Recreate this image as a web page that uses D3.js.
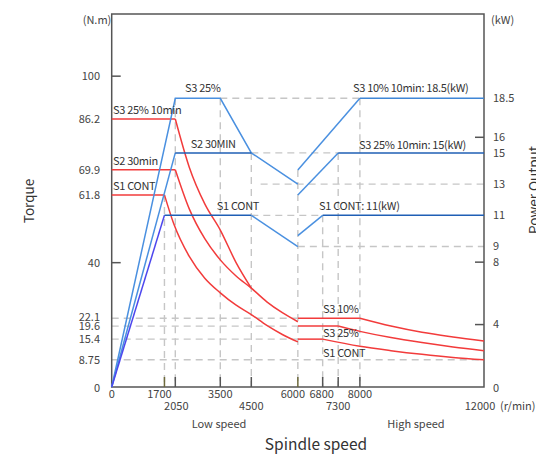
<!DOCTYPE html>
<html>
<head>
<meta charset="utf-8">
<script src="https://cdn.jsdelivr.net/npm/d3@7"></script>
<style>
  body { margin: 0; background: #fff; }
  svg { font-family: "Noto Sans CJK SC", "Noto Sans", sans-serif; }
  .tick-label { font-size: 11px; fill: #444; }
  .note { font-size: 11px; fill: #333; letter-spacing: -0.3px; }
  .guide { stroke: #c6c6c6; stroke-width: 1.4; stroke-dasharray: 7,5; fill: none; }
</style>
</head>
<body>
<svg width="536" height="454"></svg>
<script>
"use strict";

// tick labels
const speedTicks = [0, 1700, 2050, 3500, 4500, 6000, 6800, 7300, 8000, 12000];
const speedTicksLow = [2050, 4500, 7300, 12000];
const torqueTicks = [0, 8.75, 15.4, 19.6, 22.1, 40, 61.8, 69.9, 86.2, 100];
const powerTicks = [0, 4, 8, 9, 11, 13, 15, 16, 18.5];
const torqueMarks = [40, 100];
const powerMarks = [4, 8, 16];

// power curves [rpm, kW]
const powerS3Low = [[0, 0], [2050, 18.5], [3500, 18.5], [4500, 15], [6000, 13]];
const powerS2Low = [[0, 0], [2050, 15], [4500, 15]];
const powerS1Low = [[0, 0], [1700, 11], [4500, 11], [6000, 9]];
const powerS3High = [[6000, 13.9], [8000, 18.5], [12000, 18.5]];
const powerS25High = [[6000, 12.3], [7300, 15], [12000, 15]];
const powerS1High = [[6000, 9.7], [6800, 11], [12000, 11]];

// torque curves [rpm, N.m] - flat part, then falling part
const torqueS3Flat = [[0, 86.2], [2050, 86.2]];
const torqueS3Drop = [[2050, 86.2], [2500, 70.7], [3000, 58.9], [3500, 50.5], [4000, 40.2], [4500, 31.8]];
const torqueS2Flat = [[0, 69.9], [2050, 69.9]];
const torqueS2Drop = [[2050, 69.9], [2500, 57.3], [3000, 47.7], [3500, 40.9], [4000, 35.8], [4500, 31.8], [5000, 27.4], [5500, 23.9], [6000, 21]];
const torqueS1Flat = [[0, 61.8], [1700, 61.8]];
const torqueS1Drop = [[1700, 61.8], [2000, 52.5], [2500, 42], [3000, 35], [3500, 30.3], [4000, 26.4], [4500, 23.3], [5000, 19.8], [5500, 16.9], [6000, 14.5]];
const torqueS10Flat = [[6000, 22.1], [8000, 22.1]];
const torqueS10Drop = [[8000, 22.1], [9000, 19.6], [10000, 17.6], [11000, 16.1], [12000, 14.8]];
const torqueS25Flat = [[6000, 19.6], [7300, 19.6]];
const torqueS25Drop = [[7300, 19.6], [8000, 17.9], [9000, 15.9], [10000, 14.3], [11000, 12.9], [12000, 11.7]];
const torqueS1HFlat = [[6000, 15.4], [6800, 15.4]];
const torqueS1HDrop = [[6800, 15.4], [8000, 13.1], [9000, 11.7], [10000, 10.5], [11000, 9.5], [12000, 8.75]];

const svg = d3.select("svg");
const plotLeft = 111.7, plotRight = 484, plotTop = 14, plotBottom = 387;

const x = d3.scaleLinear().domain([0, 12000]).range([plotLeft, plotRight]);
const yT = d3.scaleLinear().domain([0, 120]).range([plotBottom, plotTop]);
const yP = d3.scaleLinear().domain([0, 23.9]).range([plotBottom, plotTop]);

// dashed guides
const hGuides = [
    [yP, 18.5, 3500, 8000], [yP, 15, 4500, 7300], [yP, 13, 4800, 12000],
    [yP, 11, 4500, 6800], [yP, 9, 6000, 12000],
    [yT, 22.1, 0, 6000], [yT, 19.6, 0, 6000], [yT, 15.4, 0, 6000], [yT, 8.75, 0, 12000]
];
const vGuides = [
    [1700, yT, 61.8], [2050, yP, 18.5], [3500, yP, 18.5], [4500, yP, 15],
    [6000, yP, 13.9], [6800, yP, 11], [7300, yP, 15], [8000, yP, 18.5]
];

svg.selectAll(".hg")
    .data(hGuides)
    .enter().append("line")
    .attr("class", "guide")
    .attr("x1", d => x(d[2]))
    .attr("x2", d => x(d[3]))
    .attr("y1", d => d[0](d[1]))
    .attr("y2", d => d[0](d[1]));

svg.selectAll(".vg")
    .data(vGuides)
    .enter().append("line")
    .attr("class", "guide")
    .attr("x1", d => x(d[0]))
    .attr("x2", d => x(d[0]))
    .attr("y1", d => d[1](d[2]))
    .attr("y2", plotBottom);

// frame
svg.append("rect")
    .attr("x", plotLeft).attr("y", plotTop)
    .attr("width", plotRight - plotLeft).attr("height", plotBottom - plotTop)
    .attr("fill", "none").attr("stroke", "#555").attr("stroke-width", 1.5);

// inner tick marks
svg.selectAll(".xm")
    .data(speedTicks.filter(d => d > 0 && d < 12000))
    .enter().append("line")
    .attr("x1", d => x(d)).attr("x2", d => x(d))
    .attr("y1", plotBottom).attr("y2", plotBottom - 10)
    .attr("stroke", d => (d === 1700 || d === 6000) ? "#6e6a3c" : "#555")
    .attr("stroke-width", 1.5);

svg.selectAll(".tm")
    .data(torqueMarks)
    .enter().append("line")
    .attr("x1", plotLeft).attr("x2", plotLeft + 9)
    .attr("y1", d => yT(d)).attr("y2", d => yT(d))
    .attr("stroke", "#555").attr("stroke-width", 1.5);

svg.selectAll(".pm")
    .data(powerMarks)
    .enter().append("line")
    .attr("x1", plotRight).attr("x2", plotRight - 9)
    .attr("y1", d => yP(d)).attr("y2", d => yP(d))
    .attr("stroke", "#555").attr("stroke-width", 1.5);

// lines
const lineP = d3.line().x(d => x(d[0])).y(d => yP(d[1]));
const lineT = d3.line().x(d => x(d[0])).y(d => yT(d[1]));
const curveT = d3.line().x(d => x(d[0])).y(d => yT(d[1])).curve(d3.curveMonotoneX);

const red = "#f23b3b";
const lightBlue = "#4a90e0";
const darkBlue = "#1f5fb5";
const violet = "#4d47ee";

function path(data, gen, color, width) {
    svg.append("path")
        .attr("d", gen(data))
        .attr("fill", "none")
        .attr("stroke", color)
        .attr("stroke-width", width || 1.5);
}

// red torque curves
[torqueS3Flat, torqueS2Flat, torqueS1Flat, torqueS10Flat, torqueS25Flat, torqueS1HFlat]
    .forEach(d => path(d, lineT, red));
[torqueS3Drop, torqueS2Drop, torqueS1Drop, torqueS10Drop, torqueS25Drop, torqueS1HDrop]
    .forEach(d => path(d, curveT, red));

// blue power curves
path(powerS3Low, lineP, lightBlue);
path(powerS2Low.slice(0, 2), lineP, lightBlue);
path(powerS2Low.slice(1), lineP, darkBlue);
path(powerS1Low.slice(0, 2), lineP, violet);
path(powerS1Low.slice(1, 3), lineP, darkBlue);
path(powerS1Low.slice(2), lineP, lightBlue);
path(powerS3High.slice(0, 2), lineP, lightBlue);
path(powerS3High.slice(1), lineP, "#3f86d6");
path(powerS25High.slice(0, 2), lineP, lightBlue);
path(powerS25High.slice(1), lineP, darkBlue);
path(powerS1High.slice(0, 2), lineP, lightBlue);
path(powerS1High.slice(1), lineP, darkBlue);

// curve notes: text, rpm, value, scale, dy
const notes = [
    ["S3 25%", 2363, 18.5, yP, -6],
    ["S3 25% 10min", 40, 86.2, yT, -5],
    ["S2 30MIN", 2546, 15, yP, -5],
    ["S2 30min", 40, 69.9, yT, -5],
    ["S1 CONT", 40, 61.8, yT, -5],
    ["S1 CONT", 3384, 11, yP, -5],
    ["S3 10% 10min: 18.5(kW)", 7777, 18.5, yP, -6],
    ["S3 25% 10min: 15(kW)", 7970, 15, yP, -4],
    ["S1 CONT: 11(kW)", 6682, 11, yP, -5],
    ["S3 10%", 6810, 22.1, yT, -5],
    ["S3 25%", 6810, 15.4, yT, -2],
    ["S1 CONT", 6810, 8.75, yT, -3]
];

svg.selectAll(".note")
    .data(notes)
    .enter().append("text")
    .attr("class", "note")
    .attr("x", d => x(d[1]))
    .attr("y", d => d[3](d[2]) + d[4])
    .text(d => d[0]);

// axis labels
const torqueNudge = { 0: 1.5, 22.1: -1.5, 15.4: 0.5 };
svg.selectAll(".tl")
    .data(torqueTicks)
    .enter().append("text")
    .attr("class", "tick-label")
    .attr("x", 100)
    .attr("y", d => yT(d) + (torqueNudge[d] || 0))
    .attr("dy", "0.35em")
    .attr("text-anchor", "end")
    .text(d => d);

svg.selectAll(".pl")
    .data(powerTicks)
    .enter().append("text")
    .attr("class", "tick-label")
    .attr("x", 493)
    .attr("y", d => yP(d) + (d === 0 ? 1 : 0))
    .attr("dy", "0.35em")
    .text(d => d);

const speedNudge = { 1700: -5, 2050: 1, 6000: -5, 6800: -1, 12000: -4 };
svg.selectAll(".sl")
    .data(speedTicks)
    .enter().append("text")
    .attr("class", "tick-label")
    .attr("x", d => x(d) + (speedNudge[d] || 0))
    .attr("y", d => speedTicksLow.includes(d) ? 410 : 398)
    .attr("text-anchor", "middle")
    .text(d => d);

svg.append("text").attr("class", "tick-label")
    .attr("x", 500).attr("y", 410).text("(r/min)");
svg.append("text").attr("class", "tick-label")
    .attr("x", 97).attr("y", 24).attr("text-anchor", "middle").text("(N.m)");
svg.append("text").attr("class", "tick-label")
    .attr("x", 491).attr("y", 24).text("(kW)");

svg.append("text").attr("class", "tick-label")
    .attr("x", 219).attr("y", 428).attr("text-anchor", "middle").text("Low speed");
svg.append("text").attr("class", "tick-label")
    .attr("x", 416).attr("y", 428).attr("text-anchor", "middle").text("High speed");

svg.append("text")
    .attr("x", 316).attr("y", 450)
    .attr("text-anchor", "middle")
    .style("font-size", "15.5px").style("fill", "#333")
    .text("Spindle speed");

svg.append("text")
    .attr("transform", "translate(34,201) rotate(-90)")
    .attr("text-anchor", "middle")
    .style("font-size", "13.5px").style("fill", "#333")
    .text("Torque");

svg.append("text")
    .attr("transform", "translate(539,190) rotate(-90)")
    .attr("text-anchor", "middle")
    .style("font-size", "13.5px").style("fill", "#333")
    .text("Power Output");
</script>
</body>
</html>
